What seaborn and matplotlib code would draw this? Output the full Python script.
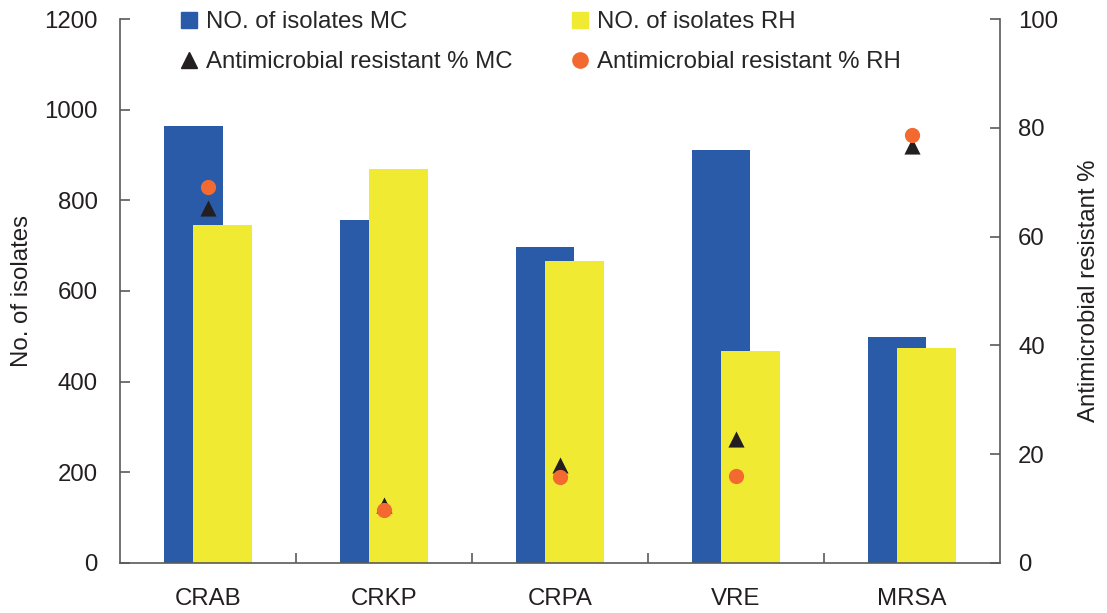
import matplotlib as mpl
import matplotlib.pyplot as plt
from matplotlib.lines import Line2D
import seaborn as sns
import numpy as np
import pandas as pd

# Set matplotlib backend so figures don't pop up
mpl.use('agg')

# Values
categories = ['CRAB', 'CRKP', 'CRPA', 'VRE', 'MRSA']
isolates_mc = [964, 757, 697, 911, 499]
isolates_rh = [746, 869, 666, 468, 474]
resist_mc = [65.2, 10.7, 18.0, 22.7, 76.7]
resist_rh = [69.1, 9.7, 15.8, 16.0, 78.7]

# Colours
blue = '#2A5BA8'
yellow = '#F0EA33'
orange = '#F26A2F'
dark = '#231F20'
spine_col = '#5A5A5A'

sns.set_style('ticks')
plt.rcParams['font.family'] = ['Liberation Sans', 'DejaVu Sans']
fs = 17.3

fig = plt.figure(figsize=(11.07, 6.13), dpi=100)
ax = fig.add_axes([0.1084, 0.0816, 0.7949, 0.8874])

idx = np.arange(len(categories))
offset = 0.085
bar_w = 0.335

# Overlapping bars: MC behind, RH in front
sns.barplot(x=idx - offset, y=isolates_mc, native_scale=True, width=bar_w,
            color=blue, saturation=1, errorbar=None, linewidth=0, ax=ax)
sns.barplot(x=idx + offset, y=isolates_rh, native_scale=True, width=bar_w,
            color=yellow, saturation=1, errorbar=None, linewidth=0, ax=ax)

ax.set_xlim(-0.5, len(categories) - 0.5)
ax.set_ylim(0, 1200)
ax.set_yticks(np.arange(0, 1201, 200))
ax.set_xticks(idx)
ax.set_xticklabels(categories, fontsize=fs, color=dark)
ax.set_xticks(idx[:-1] + 0.5, minor=True)
ax.tick_params(axis='x', which='major', length=0, pad=18)
ax.tick_params(axis='x', which='minor', direction='in', length=7, width=1.2, color=spine_col)
ax.tick_params(axis='y', direction='in', length=7, width=1.2, color=spine_col,
               labelsize=fs, labelcolor=dark, pad=16)
ax.set_xlabel('')
ax.set_ylabel('No. of isolates', fontsize=fs, color=dark, labelpad=8)

# Resistance markers on the right axis
ax2 = ax.twinx()
sns.scatterplot(x=idx, y=resist_mc, marker='^', color=dark, s=135, linewidth=0, ax=ax2, zorder=3)
sns.scatterplot(x=idx, y=resist_rh, marker='o', color=orange, s=120, linewidth=0, ax=ax2, zorder=4)
ax2.set_ylim(0, 100)
ax2.set_yticks(np.arange(0, 101, 20))
ax2.tick_params(axis='y', direction='in', length=7, width=1.2, color=spine_col,
                labelsize=fs, labelcolor=dark, pad=13)
ax2.set_ylabel('Antimicrobial resistant %', fontsize=fs, color=dark, labelpad=14)

for a in (ax, ax2):
    a.spines['top'].set_visible(False)
    for s in ('left', 'right', 'bottom'):
        a.spines[s].set_color(spine_col)
        a.spines[s].set_linewidth(1.2)
ax.spines['right'].set_visible(False)
ax2.spines['left'].set_visible(False)
ax2.spines['bottom'].set_visible(False)

# Legend in two columns at the top
handles = [
    Line2D([], [], marker='s', linestyle='', color=blue, markersize=11),
    Line2D([], [], marker='^', linestyle='', color=dark, markersize=12),
    Line2D([], [], marker='s', linestyle='', color=yellow, markersize=11),
    Line2D([], [], marker='o', linestyle='', color=orange, markersize=11),
]
labels = ['NO. of isolates MC', 'Antimicrobial resistant % MC',
          'NO. of isolates RH', 'Antimicrobial resistant % RH']
fig.legend(handles, labels, ncol=2, loc='upper left',
           bbox_to_anchor=(181 / 1107, 1 - 11 / 613), frameon=False,
           fontsize=fs, handlelength=0.7, handletextpad=0.35,
           columnspacing=2.45, labelspacing=0.75, borderpad=0, borderaxespad=0)

fig.savefig('out.png', dpi=100)
